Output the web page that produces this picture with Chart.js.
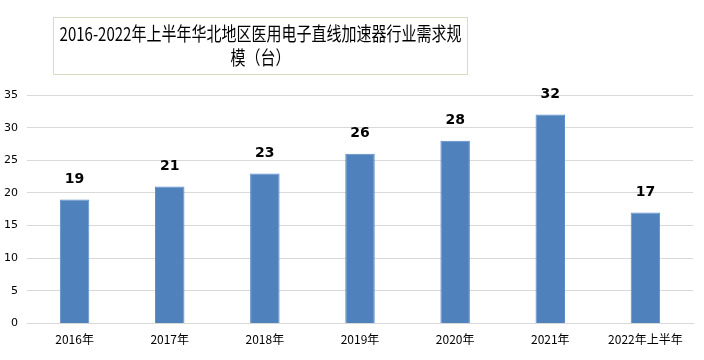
<!DOCTYPE html>
<html lang="zh">
<head>
<meta charset="UTF-8">
<title>华北地区医用电子直线加速器需求规模</title>
<script src="https://cdn.jsdelivr.net/npm/chart.js"></script>
<style>
  html, body { margin: 0; padding: 0; background: #fff; }
  #wrap { position: relative; width: 704px; height: 360px; }
  #title {
    position: absolute; left: 53px; top: 17px; width: 413px; height: 53px;
    border: 1px solid #ddd9c3; box-sizing: content-box;
    font-family: "Noto Sans CJK SC", sans-serif; font-size: 15px; line-height: 24px;
    text-align: center; color: #000; padding-top: 3px; white-space: nowrap;
  }
  #title span { display: inline-block; transform: scale(1, 1.25); }
</style>
</head>
<body>
<div id="wrap">
  <canvas id="myChart" width="704" height="360"></canvas>
  <div id="title"><span>2016-2022年上半年华北地区医用电子直线加速器行业需求规</span><br><span>模（台）</span></div>
</div>
<script>
  const labels = ['2016年', '2017年', '2018年', '2019年', '2020年', '2021年', '2022年上半年'];
  const demand = [19, 21, 23, 26, 28, 32, 17];
  const yTicks = [0, 5, 10, 15, 20, 25, 30, 35];

  // bold value above every bar
  const valueLabels = {
    id: 'valueLabels',
    afterDatasetsDraw(chart) {
      const ctx = chart.ctx;
      const meta = chart.getDatasetMeta(0);
      ctx.save();
      ctx.font = 'bold 14px "DejaVu Sans", sans-serif';
      ctx.fillStyle = '#000';
      ctx.textAlign = 'center';
      ctx.textBaseline = 'middle';
      meta.data.forEach((bar, i) => {
        ctx.fillText(demand[i], bar.x, bar.y - 20);
      });
      ctx.restore();
    }
  };

  const ctx = document.getElementById('myChart').getContext('2d');
  new Chart(ctx, {
    type: 'bar',
    data: {
      labels: labels,
      datasets: [{
        data: demand,
        backgroundColor: '#4f81bd',
        borderColor: '#5a8ac6',
        borderWidth: 1,
        barPercentage: 0.31,
        categoryPercentage: 1
      }]
    },
    options: {
      responsive: false,
      animation: false,
      layout: { padding: { top: 95, right: 11, bottom: 12, left: 0 } },
      plugins: { legend: { display: false }, tooltip: { enabled: false } },
      scales: {
        x: {
          grid: { display: false },
          border: { color: '#d9d9d9' },
          ticks: { color: '#000', font: { family: '"Noto Sans CJK SC", sans-serif', size: 12 }, padding: 1 }
        },
        y: {
          min: 0, max: 35,
          afterBuildTicks(axis) { axis.ticks = yTicks.map(v => ({ value: v })); },
          afterFit(axis) { axis.width = 27; },
          grid: { color: '#d9d9d9', lineWidth: 1, drawTicks: false },
          border: { display: false },
          ticks: { color: '#000', font: { family: '"DejaVu Sans", sans-serif', size: 11 }, padding: 9 }
        }
      }
    },
    plugins: [valueLabels]
  });
</script>
</body>
</html>
